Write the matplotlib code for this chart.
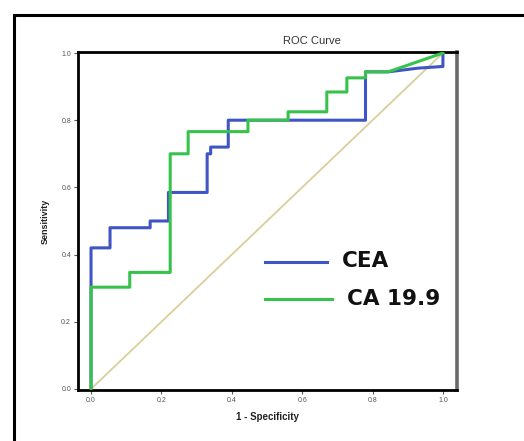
import matplotlib
matplotlib.use("Agg")
import matplotlib.pyplot as plt
from matplotlib.patches import Rectangle

plt.rcParams['font.family'] = ['Liberation Sans', 'DejaVu Sans']

# CEA ROC curve (1 - specificity, sensitivity)
cea_fpr = [0.0, 0.0, 0.054, 0.054, 0.168, 0.168, 0.22, 0.22, 0.33, 0.33, 0.34, 0.34, 0.39, 0.39, 0.78, 0.78, 0.845, 0.93, 1.0, 1.0]
cea_tpr = [0.0, 0.42, 0.42, 0.48, 0.48, 0.50, 0.50, 0.585, 0.585, 0.70, 0.70, 0.72, 0.72, 0.80, 0.80, 0.944, 0.944, 0.955, 0.96, 1.0]

# CA 19.9 ROC curve
ca_fpr = [0.0, 0.0, 0.11, 0.11, 0.225, 0.225, 0.276, 0.276, 0.446, 0.446, 0.56, 0.56, 0.67, 0.67, 0.727, 0.727, 0.78, 0.78, 0.845, 1.0]
ca_tpr = [0.0, 0.303, 0.303, 0.347, 0.347, 0.70, 0.70, 0.766, 0.766, 0.80, 0.80, 0.825, 0.825, 0.884, 0.884, 0.926, 0.926, 0.944, 0.944, 1.0]

ref_x = [0.0, 1.0]
ref_y = [0.0, 1.0]

ticks = [0.0, 0.2, 0.4, 0.6, 0.8, 1.0]
tick_labels = ["0.0", "0.2", "0.4", "0.6", "0.8", "1.0"]
series_names = ["CEA", "CA 19.9"]

W, H = 524, 441
fig = plt.figure(figsize=(W / 100, H / 100), dpi=100)

# outer frame (cut off at right and bottom)
fig.patches.append(Rectangle((14 / W, -0.1), 1.2, 1 - 15 / H + 0.1, transform=fig.transFigure,
                             fill=False, edgecolor='black', linewidth=2.2))

ax = fig.add_axes([78 / W, 1 - 390 / H, 379 / W, 338 / H])

blue = '#3f55c6'
green = '#36c24b'
ax.plot(ref_x, ref_y, color='#d9cf9a', linewidth=1.3, zorder=1)
ax.plot(cea_fpr, cea_tpr, color=blue, linewidth=2.2, zorder=2)
ax.plot(ca_fpr, ca_tpr, color=green, linewidth=2.2, zorder=3)

ax.set_xlim(-0.037, 1.040)
ax.set_ylim(-0.003, 1.003)
ax.set_xticks(ticks)
ax.set_xticklabels(tick_labels)
ax.set_yticks(ticks)
ax.set_yticklabels(tick_labels)
ax.tick_params(axis='both', direction='out', length=3, width=0.8, labelsize=5,
               labelcolor='#555555', color='#555555', pad=2)

for s in ['left', 'top', 'bottom']:
    ax.spines[s].set_linewidth(2.0)
    ax.spines[s].set_color('black')
ax.spines['right'].set_linewidth(2.6)
ax.spines['right'].set_color('#6a6a6a')

ax.set_xlabel("1 - Specificity", fontsize=7, fontweight='bold', color='#222222', labelpad=6)
ax.set_ylabel("Sensitivity", fontsize=6.5, fontweight='bold', color='#222222', labelpad=8)

fig.text(312 / W, 1 - 41 / H, "ROC Curve", fontsize=8, color='#333333', ha='center', va='center')

# custom legend inside the axes
ax.plot([0.493, 0.657], [0.379, 0.379], transform=ax.transAxes, color=blue, linewidth=2.2)
ax.plot([0.493, 0.670], [0.269, 0.269], transform=ax.transAxes, color=green, linewidth=2.2)
ax.text(0.697, 0.381, series_names[0], transform=ax.transAxes, fontsize=15.5, fontweight='bold',
        family='DejaVu Sans', va='center', ha='left', color='#111111')
ax.text(0.710, 0.268, series_names[1], transform=ax.transAxes, fontsize=15.5, fontweight='bold',
        family='DejaVu Sans', va='center', ha='left', color='#111111')

fig.savefig("out.png", dpi=100)
